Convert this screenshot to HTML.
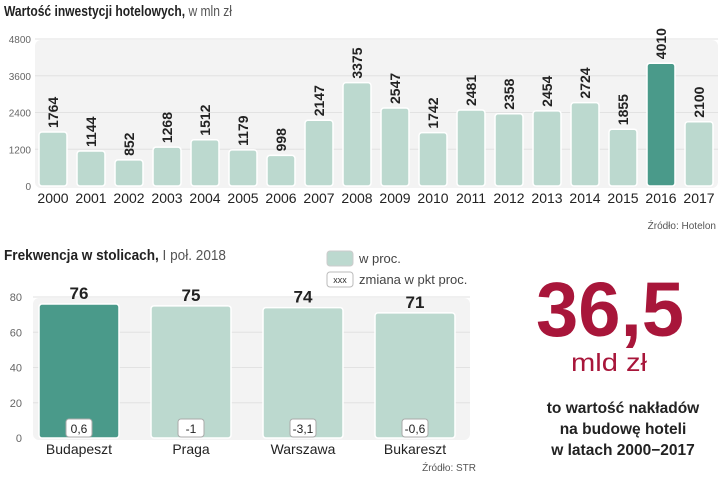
<!DOCTYPE html>
<html><head><meta charset="utf-8"><style>
body{margin:0;background:#fff;width:720px;height:475px;overflow:hidden;font-family:"Liberation Sans",sans-serif}
svg text{font-family:"Liberation Sans",sans-serif}
</style></head><body>
<svg id="s" width="720" height="475" xmlns="http://www.w3.org/2000/svg">
<text x="4" y="16" font-size="15" font-weight="bold" fill="#222" textLength="228" lengthAdjust="spacingAndGlyphs">Wartość inwestycji hotelowych,<tspan font-weight="normal" fill="#555"> w mln zł</tspan></text>
<rect x="35" y="40" width="683" height="148" rx="6" fill="#f3f3f3"/>
<g id="topG"></g>
<text x="716" y="229" font-size="10" fill="#555" text-anchor="end">Źródło: Hotelon</text>

<text x="4" y="260" font-size="15" font-weight="bold" fill="#222" textLength="222" lengthAdjust="spacingAndGlyphs">Frekwencja w stolicach,<tspan font-weight="normal" fill="#555"> I poł. 2018</tspan></text>
<rect x="327" y="251" width="26" height="15" rx="3" fill="#bcd9cf" stroke="#ccc"/>
<text x="359" y="263" font-size="13" fill="#444">w proc.</text>
<rect x="327" y="272" width="26" height="15" rx="3" fill="#fff" stroke="#bbb"/>
<text x="340" y="283" font-size="9" fill="#333" text-anchor="middle">xxx</text>
<text x="359" y="284" font-size="13" fill="#444">zmiana w pkt proc.</text>
<rect x="33" y="298" width="437" height="142" rx="6" fill="#f3f3f3"/>
<g id="botG"></g>
<text x="476" y="471" font-size="10" fill="#555" text-anchor="end">Źródło: STR</text>

<text x="610" y="336" font-size="77" font-weight="bold" fill="#a8163a" text-anchor="middle" textLength="148" lengthAdjust="spacingAndGlyphs">36,5</text>
<text x="609" y="371" font-size="25" fill="#a8163a" text-anchor="middle" textLength="76" lengthAdjust="spacingAndGlyphs">mld zł</text>
<text x="623" y="413" font-size="15.5" font-weight="bold" fill="#222" text-anchor="middle">to wartość nakładów</text>
<text x="623" y="434" font-size="15.5" font-weight="bold" fill="#222" text-anchor="middle">na budowę hoteli</text>
<text x="623" y="455" font-size="15.5" font-weight="bold" fill="#222" text-anchor="middle">w latach 2000−2017</text>
</svg>
<script>
const years=["2000","2001","2002","2003","2004","2005","2006","2007","2008","2009","2010","2011","2012","2013","2014","2015","2016","2017"];
const invest=[1764,1144,852,1268,1512,1179,998,2147,3375,2547,1742,2481,2358,2454,2724,1855,4010,2100];
const topTicks=[0,1200,2400,3600,4800];
const cities=["Budapeszt","Praga","Warszawa","Bukareszt"];
const occupancy=[76,75,74,71];
const changes=["0,6","-1","-3,1","-0,6"];
const botTicks=[0,20,40,60,80];
const NS="http://www.w3.org/2000/svg";
function mk(p,t,a,txt){const e=document.createElementNS(NS,t);for(const k in a)e.setAttribute(k,a[k]);if(txt!==undefined)e.textContent=txt;p.appendChild(e);return e;}
const topG=document.getElementById('topG');
const ty=v=>186-v*(147/4800);
const tx=i=>53+i*38;
topTicks.forEach(t=>{
 if(t>0){const l=mk(topG,'line',{x1:35,x2:718,y1:ty(t),y2:ty(t),stroke:'#e2e2e2'});
 
 }
 const e=mk(topG,'text',{x:31,y:ty(t)+4,'font-size':10,fill:'#666','text-anchor':'end'},t);
 
 
});
invest.forEach((v,i)=>{
 const x=tx(i),y=ty(v);
 const r=mk(topG,'rect',{x:x-14,y:y,width:28,height:186-y,rx:3,fill:i==16?'#4a9a8a':'#bcd9cf',stroke:'#fff','stroke-width':1.5});
 
 
 const t=mk(topG,'text',{x:0,y:0,'font-size':14,'font-weight':'bold',fill:'#222',transform:`translate(${x+5},${y-4}) rotate(-90)`},v);
 
 
 const l=mk(topG,'text',{x:x,y:203,'font-size':14,fill:'#222','text-anchor':'middle'},years[i]);
 
 
});
const botG=document.getElementById('botG');
const by=v=>438-v*(141/80);
const bx=i=>79+i*112;
botTicks.forEach(t=>{
 if(t>0){const l=mk(botG,'line',{x1:33,x2:470,y1:by(t),y2:by(t),stroke:'#e2e2e2'});
 
 }
 const e=mk(botG,'text',{x:22,y:by(t)+4,'font-size':11,fill:'#666','text-anchor':'end'},t);
 
 
});
occupancy.forEach((v,i)=>{
 const x=bx(i),y=by(v);
 const r=mk(botG,'rect',{x:x-40,y:y,width:80,height:438-y,rx:3,fill:i==0?'#4a9a8a':'#bcd9cf',stroke:'#fff','stroke-width':1.5});
 
 
 const t=mk(botG,'text',{x:x,y:y-5,'font-size':17,'font-weight':'bold',fill:'#222','text-anchor':'middle'},v);
 
 
 const b=mk(botG,'rect',{x:x-13,y:419,width:26,height:18,rx:3,fill:'#fff',stroke:'#aaa'});
 
 
 const c=mk(botG,'text',{x:x,y:433,'font-size':12,fill:'#222','text-anchor':'middle'},changes[i]);
 
 
 const l=mk(botG,'text',{x:x,y:454,'font-size':14,fill:'#222','text-anchor':'middle'},cities[i]);
 
 
});
</script>
</body></html>
